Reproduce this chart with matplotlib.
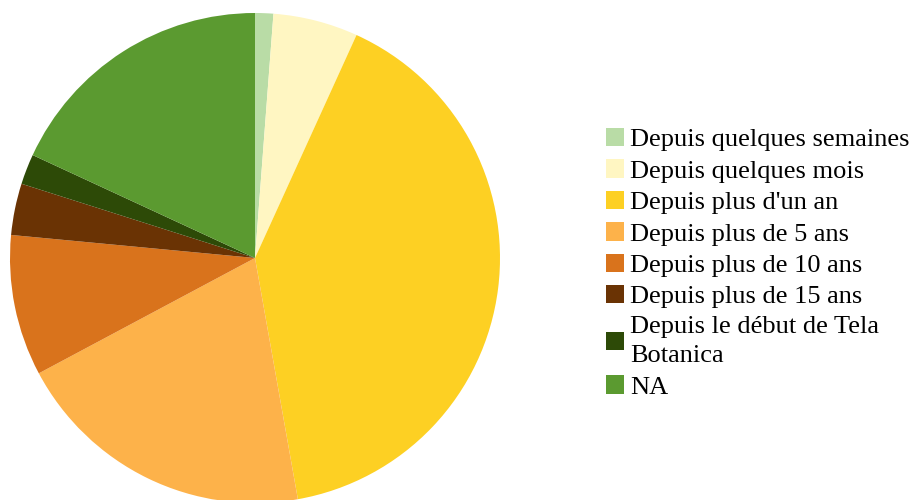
import matplotlib
matplotlib.use("Agg")
import matplotlib.pyplot as plt
from matplotlib.patches import Patch

labels = ["Depuis quelques semaines", "Depuis quelques mois", "Depuis plus d'un an",
          "Depuis plus de 5 ans", "Depuis plus de 10 ans", "Depuis plus de 15 ans",
          "Depuis le début de Tela\nBotanica", "NA"]
values = [1.2, 5.6, 40.4, 20.0, 9.3, 3.4, 2.0, 18.1]
colors = ["#b9dca6", "#fff6c2", "#fdd023", "#fdb24a", "#d9731c", "#6a3304", "#2d4a07", "#5b9a30"]

W, H = 916, 500
fig = plt.figure(figsize=(W / 100, H / 100), dpi=100)
ax = fig.add_axes([10 / W, -3 / H, 490 / W, 490 / H])
ax.pie(values, colors=colors, startangle=90, counterclock=False,
       wedgeprops=dict(linewidth=0), radius=1)
ax.set_xlim(-1, 1)
ax.set_ylim(-1, 1)
ax.set_aspect("equal")
ax.axis("off")

handles = [Patch(facecolor=c, edgecolor="none") for c in colors]
leg = fig.legend(handles, labels, loc="upper left", bbox_to_anchor=(606 / W, 1 - 128 / H),
                 frameon=False, prop={"family": "Liberation Serif", "size": 19},
                 handlelength=0.7, handleheight=0.7, handletextpad=0.2,
                 labelspacing=0.3, borderaxespad=0, borderpad=0)
for t in leg.get_texts():
    t.set_linespacing(1.42)
fig.savefig("out.png", dpi=100)
